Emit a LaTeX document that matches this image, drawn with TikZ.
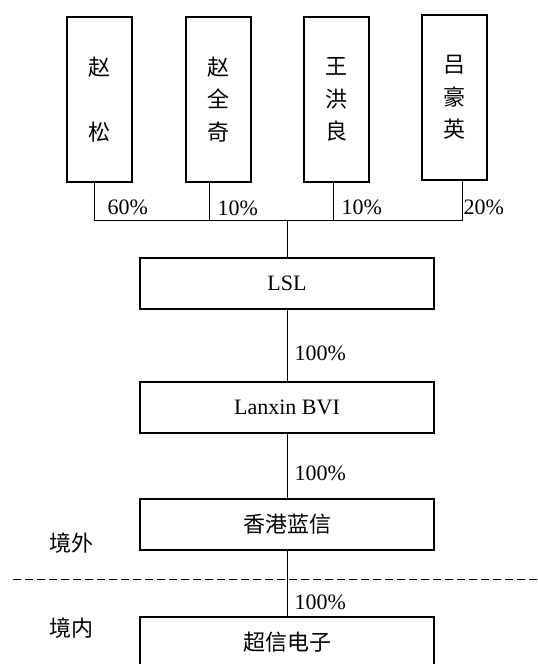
\documentclass[tikz,border=0pt]{standalone}
\usepackage{fontspec}
\setmainfont{Liberation Serif}
\newfontfamily\cjk{Noto Sans CJK SC}
\tikzset{every picture/.style={line width=0.75pt}}

\begin{document}
\begin{tikzpicture}[x=0.75pt,y=0.75pt,yscale=-1,xscale=1,
  person/.style={draw, line width=1.5pt, minimum width=48.75pt, minimum height=123.75pt, inner sep=0pt, align=center, font=\fontsize{16.5}{24.4}\selectfont\cjk},
  company/.style={draw, line width=1.5pt, minimum width=220.5pt, minimum height=38.25pt, inner sep=0pt, font=\fontsize{16.5}{20}\selectfont},
  pct/.style={anchor=west, inner sep=0.75pt, font=\fontsize{16.5}{20}\selectfont},
  region/.style={inner sep=0.75pt, font=\fontsize{16.5}{20}\selectfont\cjk}]
\useasboundingbox (0,0) rectangle (538,664);

%Shareholders
\node[person] (zs) at (99.5,99.5) {赵\\[\baselineskip]松};
\node[person] (zq) at (218,99.5) {赵\\全\\奇};
\node[person] (wh) at (336,99.5) {王\\洪\\良};
\node[person] (lh) at (454,97.5) {吕\\豪\\英};

%Companies
\node[company] (lsl) at (287,283.5) {LSL};
\node[company] (bvi) at (287,407) {Lanxin BVI};
\node[company] (hk) at (287,524.5) {\cjk 香港蓝信};
\node[company] (cx) at (287,642.5) {\cjk 超信电子};

%Junctions
\coordinate (j1) at (94,220);
\coordinate (j2) at (209,220);
\coordinate (j3) at (333,220);
\coordinate (j4) at (462,220);
\coordinate (jm) at (287,220);

%Connectors
\draw (zs.south -| j1) -- (j1) -- (j4) -- (lh.south -| j4);
\draw (zq.south -| j2) -- (j2);
\draw (wh.south -| j3) -- (j3);
\draw (jm) -- (lsl);
\draw (lsl) -- (bvi);
\draw (bvi) -- (hk);
\draw (hk) -- (cx);

%Border line
\draw [dash pattern={on 6pt off 3pt}] (13,579) -- (538,579);

% Text Node
\node[pct] (p1) at (106,207) {60\%};
% Text Node
\node[pct] (p2) at (216,208) {10\%};
% Text Node
\node[pct] (p3) at (340,207) {10\%};
% Text Node
\node[pct] (p4) at (462,207) {20\%};
% Text Node
\node[pct] (p5) at (293,353) {100\%};
% Text Node
\node[pct] (p6) at (293,473) {100\%};
% Text Node
\node[pct] (p7) at (293,602) {100\%};
% Text Node
\node[region] (jw) at (71.5,543) {境外};
% Text Node
\node[region] (jn) at (71.5,628) {境内};

\end{tikzpicture}
\end{document}
